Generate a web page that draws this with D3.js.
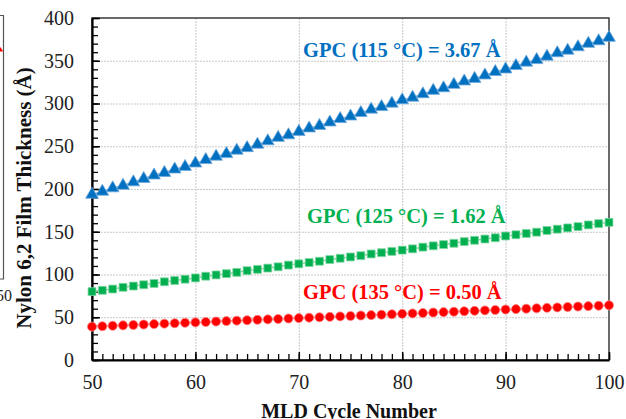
<!DOCTYPE html>
<html lang="en">
<head>
<meta charset="utf-8">
<style>
  body { margin: 0; background: #fff; }
  svg { display: block; font-family: "Liberation Serif", "Times New Roman", serif; }
</style>
</head>
<body>
<svg width="626" height="419"></svg>
<script src="https://cdn.jsdelivr.net/npm/d3@7"></script>
<script>
// MLD cycle numbers 50..100
var cycles = [50,51,52,53,54,55,56,57,58,59,60,61,62,63,64,65,66,67,68,69,70,
  71,72,73,74,75,76,77,78,79,80,81,82,83,84,85,86,87,88,89,90,
  91,92,93,94,95,96,97,98,99,100]

// film thickness (A)
var thick115 = [193.5,197,201,204,208,212,216,219,223,226,230,234,238,241,245,248,252,256,260,263,267,
  271,274,278,282,285,289,293,296,300,304,307,311,315,318,322,326,329,333,337,340,
  344,348,351,355,359,362,366,370,373,377]
var thick125 = [80,81.5,83,85,86.5,88,89.5,91.5,93,94.5,96,98,99.5,101,102.5,104.5,106,107.5,109,111,112.5,
  114,115.5,117.5,119,120.5,122,124,125.5,127,128.5,130,132,133.5,135,136.5,138.5,140,141.5,143,145,
  146.5,148,149.5,151.5,153,154.5,156,158,159.5,161]
var thick135 = [39,39.5,40,40.5,41,41.5,42,42.5,43,43.5,44,44.5,45,45.5,46,46.5,47,47.5,48,48.5,49,
  49.5,50,50.5,51,51.5,52,52.5,53,53.5,54,54.5,55,55.5,56,56.5,57,57.5,58,58.5,59,
  59.5,60,60.5,61,61.5,62,62.5,63,63.5,64]

var xTicks = [50,60,70,80,90,100]
var yTicks = [0,50,100,150,200,250,300,350,400]

var series = [
  {label: 'GPC (115 \u00B0C) = 3.67 \u00C5', values: thick115, color: '#0070c0', line: '#6fa8dc', shape: d3.symbolTriangle, size: 70, lx: 303, ly: 50},
  {label: 'GPC (125 \u00B0C) = 1.62 \u00C5', values: thick125, color: '#00b050', line: '#7fd6a0', shape: d3.symbolSquare, size: 62, lx: 307, ly: 216},
  {label: 'GPC (135 \u00B0C) = 0.50 \u00C5', values: thick135, color: '#ff0000', line: '#ff8080', shape: d3.symbolCircle, size: 64, lx: 303, ly: 292}
]

var svg = d3.select('svg')
var pLeft = 92, pRight = 609, pTop = 18, pBottom = 360

var x = d3.scaleLinear().domain([50, 100]).range([pLeft, pRight])
var y = d3.scaleLinear().domain([0, 400]).range([pBottom, pTop])

// fragment of neighbouring panel at the far left
var frag = svg.append('g')
frag.append('path').attr('d', 'M0,15.5H3.5V279H0').attr('fill', 'none').attr('stroke', '#555').attr('stroke-width', 1.2)
frag.append('path').attr('d', 'M0.5,47L3,51.5H-2Z').attr('fill', '#ff0000')
frag.append('text').attr('x', -4).attr('y', 301).attr('font-size', 16).attr('fill', '#222').text('50')

// grid
var grid = svg.append('g').attr('stroke', '#c8c8c8').attr('stroke-width', 1).attr('stroke-dasharray', '2,1')
grid.selectAll('.h').data(yTicks.slice(1, -1)).enter().append('line')
  .attr('x1', pLeft).attr('x2', pRight)
  .attr('y1', function (d) { return y(d) + 0.5 }).attr('y2', function (d) { return y(d) + 0.5 })
grid.selectAll('.v').data(xTicks.slice(1, -1)).enter().append('line')
  .attr('y1', pTop).attr('y2', pBottom)
  .attr('x1', function (d) { return x(d) + 0.5 }).attr('x2', function (d) { return x(d) + 0.5 })

// frame
svg.append('rect').attr('x', pLeft).attr('y', pTop).attr('width', pRight - pLeft).attr('height', pBottom - pTop)
  .attr('fill', 'none').attr('stroke', '#3a3a3a').attr('stroke-width', 1.5)

// minor ticks (inward)
var yMinor = d3.range(0, 401, 10)
svg.append('g').attr('transform', 'translate(' + pLeft + ',0)')
  .call(d3.axisRight(y).tickValues(yMinor).tickSize(6).tickFormat(''))
  .call(function (g) { g.select('.domain').remove() })
  .selectAll('line').attr('stroke', '#000').attr('stroke-width', 1.3)
svg.append('g').attr('transform', 'translate(0,' + pBottom + ')')
  .call(d3.axisTop(x).tickValues(cycles).tickSize(6).tickFormat(''))
  .call(function (g) { g.select('.domain').remove() })
  .selectAll('line').attr('stroke', '#000').attr('stroke-width', 1.3)

// major axes with labels
var yAxis = svg.append('g').attr('transform', 'translate(' + pLeft + ',0)')
  .call(d3.axisLeft(y).tickValues(yTicks).tickSizeInner(-8).tickSizeOuter(0).tickPadding(18))
yAxis.select('.domain').attr('stroke', '#000').attr('stroke-width', 2.2)
yAxis.selectAll('line').attr('stroke', '#000').attr('stroke-width', 1.5)
yAxis.selectAll('text').attr('font-size', 20).attr('font-family', 'Liberation Serif').attr('fill', '#222')

var xAxis = svg.append('g').attr('transform', 'translate(0,' + pBottom + ')')
  .call(d3.axisBottom(x).tickValues(xTicks).tickSizeInner(-8).tickSizeOuter(0).tickPadding(15))
xAxis.select('.domain').attr('stroke', '#000').attr('stroke-width', 2.2)
xAxis.selectAll('line').attr('stroke', '#000').attr('stroke-width', 1.5)
xAxis.selectAll('text').attr('font-size', 20).attr('font-family', 'Liberation Serif').attr('fill', '#222')

// axis titles
svg.append('text').attr('x', 349).attr('y', 418).attr('text-anchor', 'middle')
  .attr('font-size', 20).attr('font-weight', 'bold').attr('fill', '#111').text('MLD Cycle Number')
svg.append('text').attr('transform', 'translate(31,198) rotate(-90)').attr('text-anchor', 'middle')
  .attr('font-size', 21).attr('font-weight', 'bold').attr('fill', '#111').text('Nylon 6,2 Film Thickness (\u00C5)')

// series
var line = d3.line().x(function (d) { return x(d[0]) }).y(function (d) { return y(d[1]) })
series.forEach(function (s) {
  var pts = cycles.map(function (c, i) { return [c, s.values[i]] })
  svg.append('path').datum(pts).attr('d', line).attr('fill', 'none')
    .attr('stroke', s.line).attr('stroke-width', 1.5)
  svg.append('g').selectAll('path').data(pts).enter().append('path')
    .attr('transform', function (d) { return 'translate(' + x(d[0]) + ',' + y(d[1]) + ')' })
    .attr('d', d3.symbol().type(s.shape).size(s.size))
    .attr('fill', s.color).attr('stroke', s.line).attr('stroke-width', 0.8)
  svg.append('text').attr('x', s.lx).attr('y', s.ly).attr('dy', '0.35em')
    .attr('font-size', 20.5).attr('font-weight', 'bold').attr('fill', s.color).text(s.label)
})
</script>
</body>
</html>
